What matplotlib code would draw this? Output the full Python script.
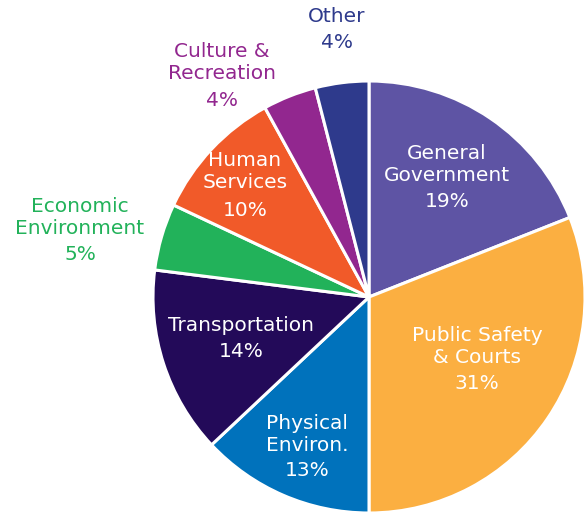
import matplotlib.pyplot as plt

# budget shares, clockwise from 12 o'clock
categories = ['General\nGovernment', 'Public Safety\n& Courts', 'Physical\nEnviron.',
              'Transportation', 'Economic\nEnvironment', 'Human\nServices',
              'Culture &\nRecreation', 'Other']
shares = [19, 31, 13, 14, 5, 10, 4, 4]
colors = ['#5e54a4', '#fbaf41', '#0072bc', '#230a59', '#22b25a', '#f15a29',
          '#92278f', '#2e3a8c']

# label layout in picture pixels: x centre, y of first name line, y of percent line
label_px = [(447, 153, 201), (477, 335, 383), (307, 423, 471), (241, 325, 351),
            (80, 206, 254), (245, 160, 210), (222, 51, 100), (337, 16, 42)]
label_col = ['white', 'white', 'white', 'white', '#22b25a', 'white',
             '#92278f', '#2e3a8c']

W, H = 588, 514
CX, CY, R = 369, 297, 216
LINE = 22  # px between name lines

fig = plt.figure(figsize=(W / 100, H / 100), dpi=100)
ax = fig.add_axes([0, 0, 1, 1])
ax.pie(shares, colors=colors, startangle=90, counterclock=False, radius=1,
       wedgeprops=dict(edgecolor='white', linewidth=2.2))
ax.set_xlim(-CX / R, (W - CX) / R)
ax.set_ylim(-(H - CY) / R, CY / R)
ax.set_aspect('auto')
ax.axis('off')

style = dict(ha='center', va='center', fontsize=14.5, family='DejaVu Sans')
for name, pct, (px, py, ppy), c in zip(categories, shares, label_px, label_col):
    x = (px - CX) / R
    for i, line in enumerate(name.split('\n')):
        ax.text(x, (CY - py - i * LINE) / R, line, color=c, **style)
    ax.text(x, (CY - ppy) / R, f'{pct}%', color=c, **style)

fig.savefig('out.png', dpi=100)
